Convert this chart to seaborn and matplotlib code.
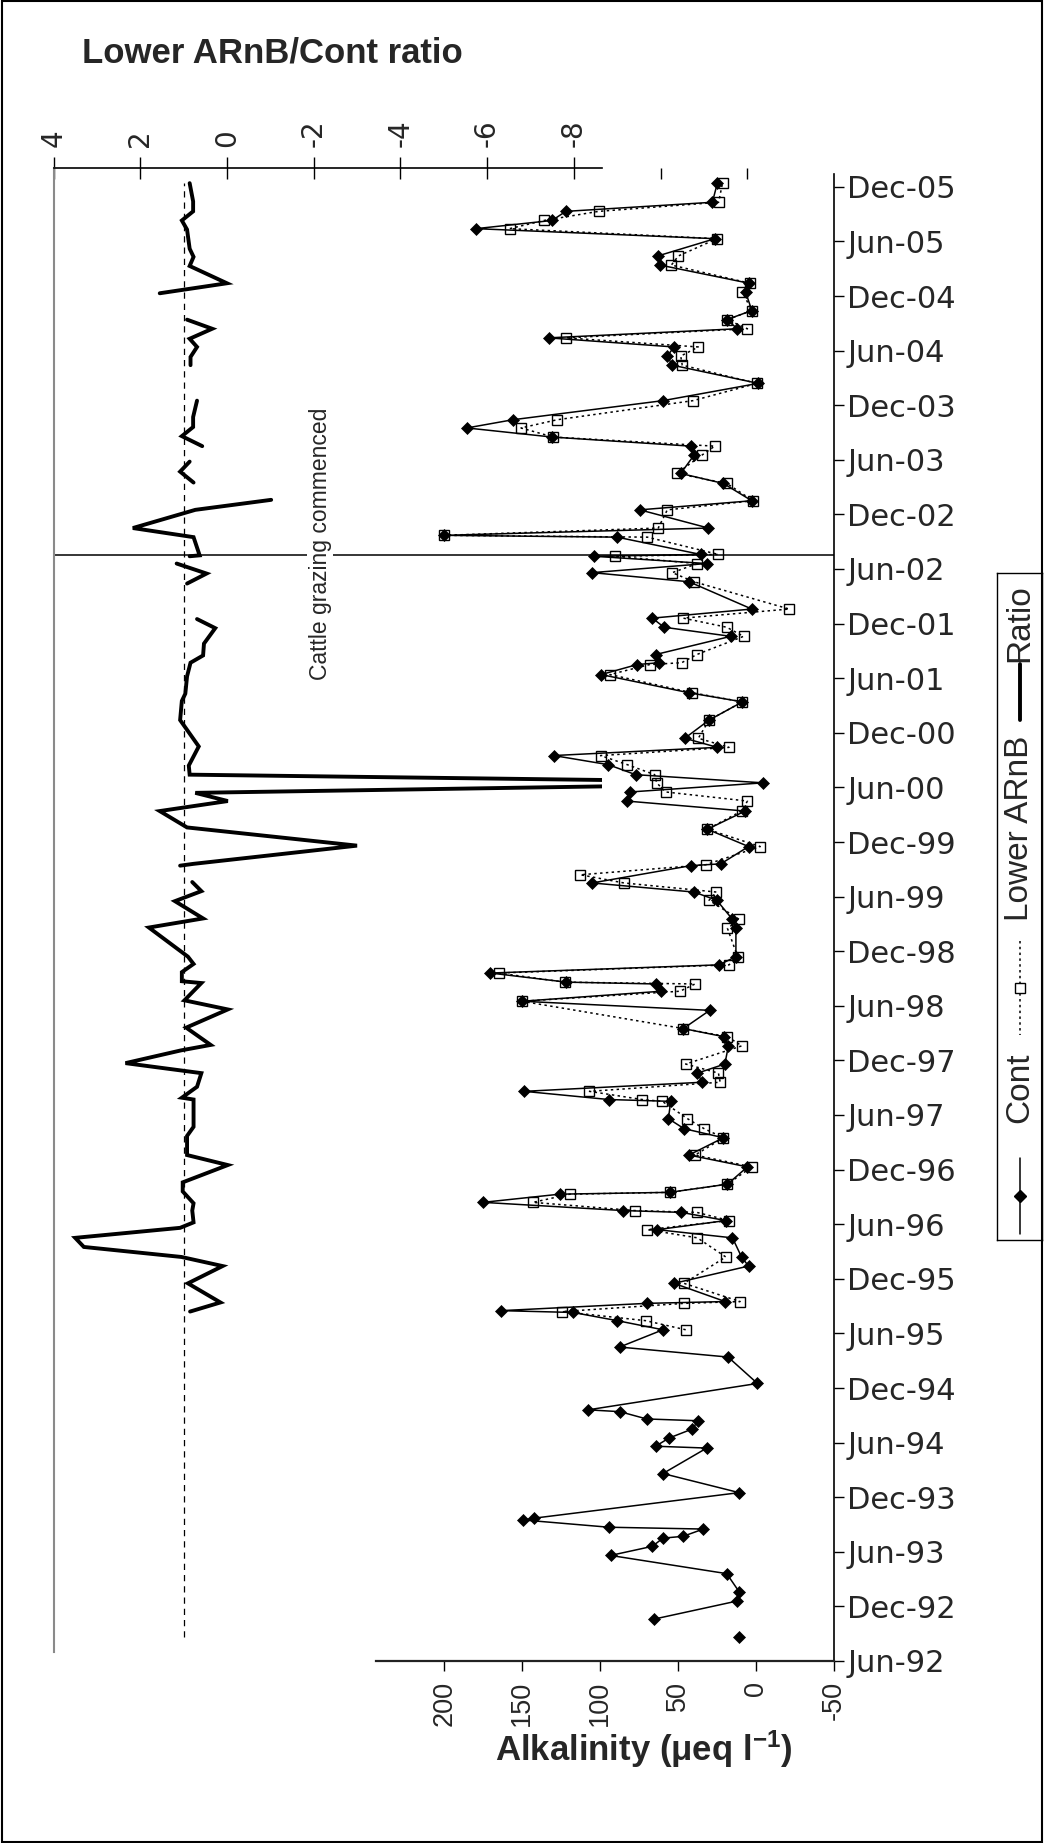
import numpy as np
import pandas as pd
import matplotlib
matplotlib.use("Agg")
import matplotlib.pyplot as plt
from matplotlib.patches import Rectangle
import seaborn as sns

# Sample times are given in months after June 1992.
cont_month = [2.6, 3.6, 4.6, 6.6, 7.6, 9.6, 11.6, 12.6, 13.5, 13.7, 14.5, 14.7, 15.5, 15.7,
              18.5, 20.6, 23.4, 23.6, 24.5, 25.5, 26.4, 26.6, 27.4, 27.6, 30.5, 33.4, 34.5,
              36.4, 37.4, 38.3, 38.5, 39.3, 39.5, 41.5, 43.4, 44.4, 46.5, 47.4, 48.4, 49.3,
              49.5, 50.4, 51.3, 51.5, 52.4, 54.3, 55.6, 57.5, 58.5, 59.6, 61.5, 61.7, 62.6,
              63.6, 64.6, 65.6, 67.6, 68.6, 69.5, 71.5, 72.5, 73.6, 74.4, 74.6, 75.6, 76.5,
              77.4, 80.5, 81.5, 83.6, 84.5, 85.5, 87.4, 87.6, 89.5, 91.4, 93.4, 94.5, 95.5,
              96.5, 97.4, 98.5, 99.5, 100.4, 101.4, 103.4, 105.4, 106.4, 108.4, 109.5, 109.7,
              110.6, 112.6, 113.6, 114.6, 115.6, 118.6, 119.6, 120.6, 121.4, 121.6, 123.5,
              123.7, 124.5, 126.5, 127.5, 129.4, 130.5, 132.5, 133.5, 134.5, 135.5, 136.4,
              138.5, 140.4, 142.4, 143.4, 144.4, 145.4, 146.4, 147.4, 148.4, 150.4, 151.4,
              153.4, 154.4, 156.3, 157.4, 158.3, 159.3, 160.3, 162.4]
cont_alk = [10.8, np.nan, 65.5, 11.9, 10.8, 18.8, 93.3, 66.5, 59.7, 46.8, 33.8, 94.4, 149.4, 142.1,
            10.8, 59.7, 31.6, 64.4, 55.8, 40.8, 37.2, 70.2, 87.3, 107.7, -0.9, 17.9, 87.5,
            59.7, 89.0, 117.3, 163.4, 70.2, 19.8, 52.6, 4.8, 9.3, 15.1, 63.3, 19.4, 47.9,
            85.2, 175.1, 125.9, 55.4, 18.3, 5.5, 43.0, 20.9, 46.2, 56.2, 54.7, 94.4, 148.6,
            34.4, 37.6, 20.0, 17.7, 20.5, 46.6, 29.7, 150.1, 60.8, 64.4, 121.6, 170.4, 23.7,
            12.9, 12.9, 15.1, 25.2, 39.8, 105.1, 41.9, 22.6, 4.8, 31.2, 7.0, 83.0, 80.5,
            -4.6, 77.2, 94.8, 129.7, 24.8, 45.7, 30.1, 8.7, 43.0, 99.3, 76.2, 62.2,
            64.4, 16.2, 59.0, 66.5, 2.7, 43.0, 105.1, 31.6, 104.0, 35.5, 89.0,
            200.0, 30.5, 74.5, 2.7, 20.9, 48.3, 39.8, 41.9, 130.8, 185.4, 156.0,
            59.7, -1.4, 53.7, 56.9, 52.6, 133.0, 11.9, 18.8, 2.7, 6.6, 4.4,
            61.6, 63.0, 26.3, 179.6, 130.8, 122.0, 28.0, 24.8]

lower_month = [36.4, 37.4, 38.4, 39.3, 39.5, 41.5, 44.4, 46.5, 47.4, 48.4, 49.3, 49.5, 50.4,
               51.3, 51.5, 52.4, 54.3, 55.6, 57.5, 58.5, 59.6, 61.5, 61.7, 62.6, 63.6, 64.6,
               65.6, 67.6, 68.6, 69.5, 72.5, 73.6, 74.4, 74.6, 75.6, 76.5, 77.4, 80.5, 81.5,
               83.6, 84.5, 85.5, 86.4, 87.5, 89.5, 91.4, 93.4, 94.5, 95.5, 96.5, 97.4, 98.5,
               99.5, 100.4, 101.4, 103.4, 105.4, 106.4, 108.4, 109.5, 109.7, 110.6, 112.6,
               113.6, 114.6, 115.6, 118.6, 119.6, 120.6, 121.4, 121.6, 123.5, 123.7, 124.5,
               126.5, 127.5, 129.4, 130.5, 132.5, 133.5, 134.5, 135.5, 136.4, 138.5, 140.4,
               142.4, 143.4, 144.4, 145.4, 146.4, 147.4, 148.4, 150.4, 151.4, 153.4, 154.4,
               156.3, 157.4, 158.3, 159.3, 160.3, 162.4]
lower_alk = [45.1, 70.8, 124.4, 46.2, 10.2, 46.2, 19.4, 37.6, 69.7, 17.3, 38.0, 77.9, 143.0,
             119.4, 55.4, 18.3, 2.7, 39.1, 20.9, 33.3, 44.0, 60.1, 73.0, 106.8, 23.0, 24.1,
             45.1, 9.1, 18.3, 46.6, 150.1, 48.8, 39.1, 122.7, 165.1, 17.3, 11.8, 18.3, 10.8,
             30.1, 25.4, 84.7, 112.6, 32.3, -2.7, 31.2, 9.3, 5.5, 58.0, 63.7, 65.0, 82.6,
             99.7, 17.3, 37.0, 30.1, 8.7, 40.8, 93.7, 68.2, 47.7, 38.0, 8.0,
             18.8, 46.6, -21.3, 39.8, 53.7, 37.6, 90.5, 24.1, 69.7, 200.0, 62.7,
             56.9, 1.9, 18.7, 50.9, 34.8, 26.5, 130.0, 150.7, 127.6, 40.4, -0.6,
             47.3, 48.3, 37.0, 121.8, 5.5, 18.4, 2.7, 8.7, 3.8, 54.3, 49.8,
             25.0, 158.0, 136.0, 101.0, 24.0, 21.5]

# Lower ARnB / Cont ratio; NaN marks the breaks in the line
ratio_month = [38.4, 39.4, 41.5, 43.4, 44.4, 45.5, 46.5, 47.6, 48.2, 49.5, 50.3, 51.6, 52.6,
               54.5, 55.6, 57.7, 58.7, 61.7, 61.9, 63.1, 64.6, 65.7, 67.1, 67.7, 69.6, 71.6,
               72.6, 74.5, 74.7, 75.7, 76.6, 77.4, 80.6, 81.6, 83.5, 84.6, 85.6, 86.5, 87.4,
               87.6, 89.6, 91.6, 93.4, 94.5, 95.4, 96.5, 97.4, 98.4, 100.5, 103.4, 105.5,
               106.3, 108.2, 109.7, 110.5, 111.8, 113.5, 114.5, 116.5, 118.4, 119.5, 120.6,
               121.0, 121.4, 121.5, 123.5, 124.5, 126.5, 127.6, 128.5, 129.5, 130.7, 131.8,
               132.6, 133.5, 134.6, 135.6, 136.7, 138.5, 140.4, 142.4, 143.3, 144.4, 145.3,
               146.4, 147.4, 149.0, 150.3, 151.4, 153.3, 154.3, 155.2, 157.3, 158.3, 159.3,
               160.4, 162.4]
ratio_value = [0.85, 0.15, 0.9, 0.1, 1.05, 3.3, 3.5, 1.08, 0.77, 0.80, 0.77, 1.02, 1.02,
               -0.02, 0.92, 0.92, 0.77, 0.77, 1.04, 0.69, 0.59, 2.34, 1.06, 0.375, 0.94, -0.02,
               0.98, 0.59, 1.04, 1.04, 0.77, 0.9, 1.8, 0.55, 1.2, 0.59, 0.80, np.nan, 1.08,
               0.77, -3.0, 0.92, 1.55, -0.02, 0.73, -13.8, 0.86, 0.88, 0.65, 1.08, 1.04,
               0.96, 0.92, 0.84, 0.55, 0.53, 0.27, 0.69, np.nan, 0.92, 0.47, 1.16,
               np.nan, 0.86, 0.63, 0.77, 2.17, 0.73, -1.02, np.nan, 0.77, 1.08, 0.86,
               np.nan, 0.57, 1.04, 0.78, 0.78, 0.69, np.nan, 0.84, 0.84, 0.69, 0.86,
               0.34, 0.92, np.nan, 1.55, 0.0, 0.86, 0.77, 0.86, 0.92, 1.04, 0.78,
               0.78, 0.86]

grazing_month = 121.5          # cattle introduced, mid-July 2002
ratio_reference = 1.0

month_ticks = list(range(0, 163, 6))
month_labels = ["Jun-92", "Dec-92", "Jun-93", "Dec-93", "Jun-94", "Dec-94", "Jun-95",
                "Dec-95", "Jun-96", "Dec-96", "Jun-97", "Dec-97", "Jun-98", "Dec-98",
                "Jun-99", "Dec-99", "Jun-00", "Dec-00", "Jun-01", "Dec-01", "Jun-02",
                "Dec-02", "Jun-03", "Dec-03", "Jun-04", "Dec-04", "Jun-05", "Dec-05"]
alk_ticks = [200, 150, 100, 50, 0, -50]
alk_labels = ["200", "150", "100", "50", "0", "-50"]
ratio_ticks = [4, 2, 0, -2, -4, -6, -8]
ratio_labels = ["4", "2", "0", "-2", "-4", "-6", "-8"]
ratio_minor_ticks = [-10, -12]

sns.set_style("white")
plt.rcParams["font.family"] = ["DejaVu Sans"]
plt.rcParams["mathtext.fontset"] = "custom"
plt.rcParams["mathtext.rm"] = "Liberation Sans:bold"
plt.rcParams["mathtext.bf"] = "Liberation Sans:bold"
plt.rcParams["mathtext.default"] = "bf"

W, H = 1044, 1843
fig = plt.figure(figsize=(W / 100, H / 100), dpi=100)
fig.patch.set_facecolor("white")


def frame(left, top, right, bottom):
    return [left / W, 1 - bottom / H, (right - left) / W, (bottom - top) / H]


# shared vertical time scale: Jun-92 at pixel row 1661, 9.1 px per month
base_row, px_month = 1661.0, 9.1


def month_span(top, bottom):
    return ((base_row - bottom) / px_month, (base_row - top) / px_month)


def with_segments(month, values):
    df = pd.DataFrame({"month": month, "value": values})
    df["seg"] = df["value"].isna().cumsum()
    return df.dropna()


# ---------- ratio panel (left) ----------
ax_r = fig.add_axes(frame(53.5, 168, 834, 1652))
ax_r.patch.set_alpha(0)
ax_r.set_xlim(4, -14)
ax_r.set_ylim(*month_span(168, 1652))
ratio_edge = -8.65

ratio_df = with_segments(ratio_month, ratio_value)
n_before = len(ax_r.lines)
sns.lineplot(data=ratio_df, x="value", y="month", units="seg", estimator=None,
             sort=False, orient="y", color="black", linewidth=2.8, ax=ax_r, legend=False)
y0, y1 = ax_r.get_ylim()
clip = Rectangle((ratio_edge, y0), 4 - ratio_edge, y1 - y0, transform=ax_r.transData)
for ln in ax_r.lines[n_before:]:
    ln.set_clip_path(clip)
    ln.set_solid_joinstyle("miter")

ax_r.plot([ratio_reference, ratio_reference], [cont_month[0], cont_month[-1]],
          color="black", linewidth=0.9, linestyle=(0, (5, 4)))
ax_r.axhline(grazing_month, color="black", linewidth=1.1)
ax_r.annotate("Cattle grazing commenced", xy=(-2.15, grazing_month), xytext=(0, 12),
              textcoords="offset pixels", rotation=90, ha="center", va="center",
              fontsize=16.5, family="Liberation Sans",
              bbox=dict(facecolor="white", edgecolor="none", pad=1))

for side in ["right", "bottom"]:
    ax_r.spines[side].set_visible(False)
ax_r.spines["top"].set_bounds(4, ratio_edge)
ax_r.spines["top"].set_color("black")
ax_r.spines["top"].set_linewidth(1.2)
ax_r.spines["left"].set_color("#8a8a8a")
ax_r.spines["left"].set_linewidth(1.5)
ax_r.set_yticks([])
ax_r.xaxis.tick_top()
ax_r.set_xticks(ratio_ticks)
ax_r.set_xticklabels(ratio_labels)
ax_r.set_xticks(ratio_minor_ticks, minor=True)
ax_r.tick_params(axis="x", which="major", direction="inout", length=16, width=1,
                 top=True, bottom=False, labeltop=True, labelbottom=False,
                 labelrotation=90, labelsize=20, pad=7, color="black")
ax_r.tick_params(axis="x", which="minor", direction="in", length=8, width=1,
                 top=True, bottom=False, color="black")
ax_r.set_xlabel("")
ax_r.set_ylabel("")

# ---------- alkalinity panel (right) ----------
ax = fig.add_axes(frame(376, 174, 834, 1661))
ax.patch.set_alpha(0)
ax.set_xlim(243.7, -50)
ax.set_ylim(*month_span(174, 1661))

lower_df = with_segments(lower_month, lower_alk)
cont_df = with_segments(cont_month, cont_alk)
sns.lineplot(data=cont_df, x="value", y="month", units="seg", estimator=None, sort=False,
             orient="y", color="black", linewidth=1.1, marker="D", markersize=6.5,
             markeredgecolor="black", markeredgewidth=0.5, ax=ax, legend=False)
sns.lineplot(data=lower_df, x="value", y="month", units="seg", estimator=None, sort=False,
             orient="y", color="black", linewidth=1.1, linestyle=(0, (1.6, 2.2)),
             marker="s", markersize=6.8, markerfacecolor="none",
             markeredgecolor="black", markeredgewidth=1.0, ax=ax, legend=False)

for side in ["left", "top"]:
    ax.spines[side].set_visible(False)
ax.spines["bottom"].set_color("#222222")
ax.spines["bottom"].set_linewidth(1.6)
ax.spines["right"].set_color("black")
ax.spines["right"].set_linewidth(1.2)

ax.set_xticks(alk_ticks)
ax.set_xticklabels(alk_labels, fontfamily="Liberation Sans")
ax.tick_params(axis="x", direction="out", length=7.5, width=1, bottom=True,
               labelrotation=90, labelsize=19.5, pad=7, color="black")
ax.yaxis.tick_right()
ax.set_yticks(month_ticks)
ax.set_yticklabels(month_labels)
ax.tick_params(axis="y", direction="out", length=7.5, width=1, right=True, left=False,
               labelsize=22, pad=2, color="black")
ax.set_xlabel("")
ax.set_ylabel("")

# ---------- titles ----------
fig.text(82 / W, 1 - 53 / H, "Lower ARnB/Cont ratio", fontsize=25, fontweight="bold",
         family="Liberation Sans", ha="left", va="center")
fig.text(644 / W, 1 - 1761 / H, r"Alkalinity (μeq l$^{-1}$)", fontsize=25,
         fontweight="bold", family="Liberation Sans", ha="center", va="baseline")

# ---------- legend (rotated, reads bottom to top) ----------
lax = fig.add_axes(frame(997, 573, 1042, 1240))
lax.set_xlim(0, 1)
lax.set_ylim(1240, 573)
lax.set_xticks([])
lax.set_yticks([])
for sp in lax.spines.values():
    sp.set_visible(True)
    sp.set_color("black")
    sp.set_linewidth(1.0)
lax.patch.set_facecolor("white")
lax.plot([0.5, 0.5], [1158, 1234], color="black", linewidth=1.1)
lax.plot([0.5], [1196], marker="D", markersize=6.5, color="black")
lax.text(0.5, 1088, "Cont", rotation=90, ha="center", va="center", fontsize=24,
         family="Liberation Sans")
lax.plot([0.5, 0.5], [941, 1035], color="black", linewidth=1.1, linestyle=(0, (1.6, 2.2)))
lax.plot([0.5], [988], marker="s", markersize=6.8, markerfacecolor="white",
         markeredgecolor="black", markeredgewidth=1.0)
lax.text(0.5, 828, "Lower ARnB", rotation=90, ha="center", va="center", fontsize=24,
         family="Liberation Sans")
lax.plot([0.5, 0.5], [664, 720], color="black", linewidth=2.8)
lax.text(0.5, 623, "Ratio", rotation=90, ha="center", va="center", fontsize=24,
         family="Liberation Sans")

# outer frame
fig.patches.append(Rectangle((0.002, 0.0006), 0.996, 0.9988, transform=fig.transFigure,
                             fill=False, edgecolor="black", linewidth=1.5))

fig.savefig("out.png", dpi=100, facecolor="white")
